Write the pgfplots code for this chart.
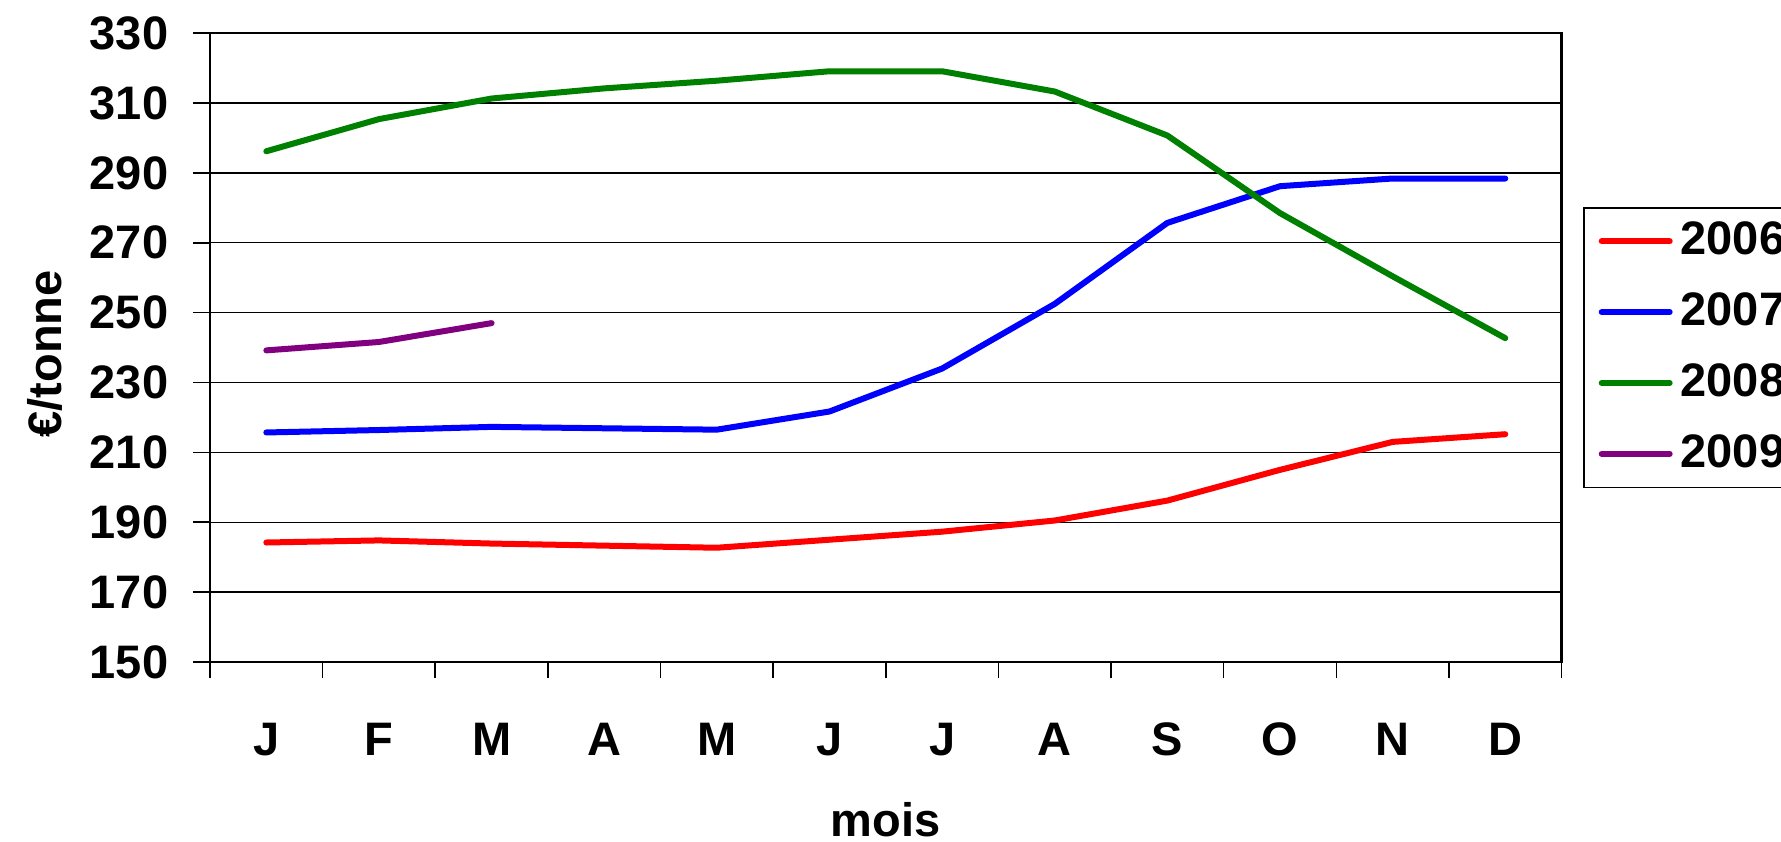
\documentclass[border=0pt]{standalone}
\usepackage{fontspec}
\setmainfont{Liberation Sans}
\usepackage{pgfplots}
\pgfplotsset{compat=1.18}
\definecolor{c2006}{RGB}{255,0,0}
\definecolor{c2007}{RGB}{0,0,255}
\definecolor{c2008}{RGB}{0,128,0}
\definecolor{c2009}{RGB}{128,0,128}
\newcommand{\lf}{\fontsize{11.75pt}{14pt}\selectfont\bfseries}
\begin{document}
\begin{tikzpicture}
\useasboundingbox (-52.5pt,-45pt) rectangle (392.75pt,165.5pt);
\clip (-52.5pt,-45pt) rectangle (392.75pt,165.5pt);
\begin{axis}[
  at={(0pt,0pt)}, anchor=south west,
  scale only axis, width=337.9pt, height=157.2pt,
  xmin=0.5, xmax=12.5, ymin=150, ymax=330,
  xtick={1,...,12}, xticklabels={J,F,M,A,M,J,J,A,S,O,N,D},
  minor xtick={0.5,1.5,...,12.5},
  ytick={150,170,...,330},
  xtick pos=bottom, ytick pos=left,
  ymajorgrids, major grid style={black, line width=0.35pt},
  tick align=outside, major tick length=4.25pt, minor tick length=4pt,
  major x tick style={draw=none},
  tick style={black, line width=0.4pt},
  axis line style={black, line width=0.55pt},
  /pgf/number format/assume math mode=true,
  tick label style={font=\lf},
  yticklabel style={anchor=east, inner sep=0pt, xshift=-6pt},
  xticklabel style={anchor=base, yshift=-19.1pt},
  xlabel={mois},
  every axis x label/.style={at={(axis description cs:0.5,0)}, anchor=base, yshift=-43.75pt, font=\lf},
  ylabel={€/tonne},
  every axis y label/.style={at={(axis description cs:-0.110,0.49)}, rotate=90, anchor=base, font=\lf},
  legend style={at={(axis description cs:1,0.5)}, anchor=west, xshift=5.4pt, draw=black, line width=0.35pt, font=\lf, inner xsep=3.7pt, inner ysep=1.5pt, row sep=4pt},
  legend cell align=left,
  legend image code/.code={\draw[#1] (0pt,0pt) -- (17pt,0pt);},
  every axis plot/.append style={line width=1.5pt, line cap=round, line join=round},
]
\addplot[c2006] coordinates {(1,184.2) (2,184.8) (3,183.9) (4,183.3) (5,182.7) (6,185.0) (7,187.3) (8,190.5) (9,196.2) (10,205.0) (11,213.0) (12,215.2)};
\addlegendentry{2006}
\addplot[c2007] coordinates {(1,215.7) (2,216.4) (3,217.3) (4,216.9) (5,216.5) (6,221.7) (7,234.0) (8,252.5) (9,275.7) (10,286.2) (11,288.4) (12,288.4)};
\addlegendentry{2007}
\addplot[c2008] coordinates {(1,296.2) (2,305.4) (3,311.3) (4,314.2) (5,316.4) (6,319.1) (7,319.1) (8,313.3) (9,300.7) (10,278.5) (11,260.4) (12,242.7)};
\addlegendentry{2008}
\addplot[c2009] coordinates {(1,239.2) (2,241.6) (3,247.0)};
\addlegendentry{2009}
\end{axis}
\end{tikzpicture}
\end{document}
